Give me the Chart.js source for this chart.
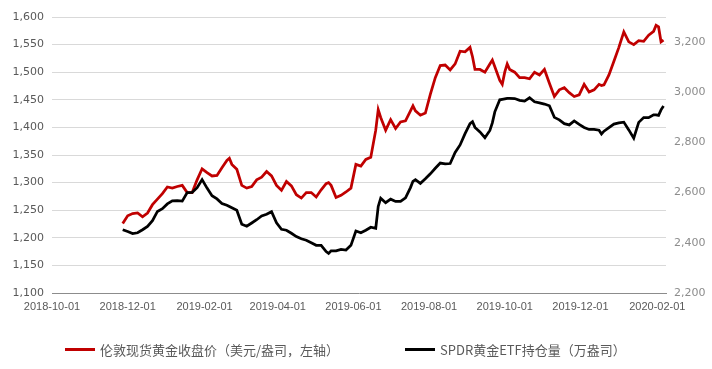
<!DOCTYPE html>
<html>
<head>
<meta charset="utf-8">
<script src="https://cdn.jsdelivr.net/npm/chart.js@4.4.1/dist/chart.umd.min.js"></script>
<style>
  body { margin: 0; background: #fff; }
  #wrap { position: relative; width: 712px; height: 369px; }
  .leg { position: absolute; top: 340px; height: 18px; display: flex; align-items: center;
         font-family: "Noto Sans CJK SC", "Noto Sans", sans-serif; font-size: 13px; color: #595959; white-space: nowrap; }
  .leg i { display: inline-block; width: 30px; height: 3px; margin-right: 5px; }
</style>
</head>
<body>
<div id="wrap">
  <canvas id="myGraph" width="712" height="369"></canvas>
  <div class="leg" style="left:65px"><i style="background:#c00000"></i><span id="leg0"></span></div>
  <div class="leg" style="left:405px"><i style="background:#000"></i><span id="leg1"></span></div>
</div>
<script>
/* DATOS */
const seriesNames = ["伦敦现货黄金收盘价（美元/盎司，左轴）", "SPDR黄金ETF持仓量（万盎司）"];
const dates = [
  "2018-11-27","2018-12-01","2018-12-05","2018-12-09","2018-12-13","2018-12-17","2018-12-21","2018-12-25","2018-12-29",
  "2019-01-02","2019-01-06","2019-01-10","2019-01-14","2019-01-18","2019-01-22","2019-01-26","2019-01-30",
  "2019-02-03","2019-02-07","2019-02-11","2019-02-15","2019-02-19","2019-02-21","2019-02-23","2019-02-27",
  "2019-03-03","2019-03-07","2019-03-11","2019-03-15","2019-03-19","2019-03-23","2019-03-27","2019-03-31",
  "2019-04-04","2019-04-08","2019-04-12","2019-04-16","2019-04-20","2019-04-24","2019-04-28",
  "2019-05-02","2019-05-06","2019-05-10","2019-05-12","2019-05-14","2019-05-18","2019-05-22","2019-05-26","2019-05-30",
  "2019-06-03","2019-06-07","2019-06-11","2019-06-15","2019-06-19","2019-06-21","2019-06-23","2019-06-27",
  "2019-07-01","2019-07-05","2019-07-09","2019-07-13","2019-07-17","2019-07-19","2019-07-21","2019-07-25","2019-07-29",
  "2019-08-02","2019-08-06","2019-08-10","2019-08-14","2019-08-18","2019-08-22","2019-08-26","2019-08-30",
  "2019-09-03","2019-09-05","2019-09-07","2019-09-11","2019-09-15","2019-09-19","2019-09-21","2019-09-23","2019-09-27","2019-09-29",
  "2019-10-01","2019-10-03","2019-10-05","2019-10-09","2019-10-13","2019-10-17","2019-10-21","2019-10-25","2019-10-29",
  "2019-11-02","2019-11-06","2019-11-10","2019-11-14","2019-11-18","2019-11-22","2019-11-26","2019-11-30",
  "2019-12-04","2019-12-08","2019-12-12","2019-12-16","2019-12-18","2019-12-20","2019-12-24","2019-12-28",
  "2020-01-01","2020-01-05","2020-01-09","2020-01-13","2020-01-17","2020-01-21","2020-01-25","2020-01-29","2020-01-31",
  "2020-02-02","2020-02-04","2020-02-06"
];
const goldPrice = [
  1226,1240,1244,1245,1238,1245,1260,1270,1280,
  1292,1290,1293,1295,1282,1282,1305,1325,
  1318,1312,1313,1327,1340,1344,1333,1324,
  1295,1290,1293,1305,1310,1320,1312,1295,
  1286,1302,1294,1278,1272,1282,1282,
  1274,1287,1298,1300,1295,1273,1277,1283,1290,
  1333,1330,1342,1346,1395,1432,1418,1395,
  1414,1398,1410,1412,1430,1439,1430,1422,1426,
  1460,1490,1512,1513,1504,1515,1538,1537,
  1545,1528,1505,1505,1500,1515,1522,1510,1485,1478,
  1500,1515,1505,1500,1490,1490,1488,1500,1495,
  1505,1480,1456,1468,1472,1463,1456,1459,
  1478,1464,1468,1478,1476,1477,1495,1520,
  1545,1573,1555,1550,1557,1556,1567,1574,1585,
  1582,1555,1558
];
const etfHolding = [
  2452,2445,2437,2440,2452,2465,2488,2525,2536,
  2555,2567,2568,2566,2600,2601,2620,2652,
  2618,2588,2575,2557,2550,2545,2540,2530,
  2474,2466,2479,2492,2507,2514,2524,2480,
  2454,2450,2438,2425,2416,2410,2400,
  2390,2390,2365,2358,2368,2368,2374,2371,2390,
  2447,2440,2450,2462,2458,2545,2578,2560,
  2574,2565,2565,2579,2620,2645,2652,2637,2655,
  2675,2697,2718,2715,2716,2760,2790,2835,
  2875,2883,2860,2842,2819,2848,2878,2922,2970,2972,
  2974,2976,2976,2975,2968,2965,2978,2962,2958,
  2953,2946,2900,2890,2875,2870,2886,2872,
  2860,2852,2852,2849,2834,2845,2859,2873,
  2878,2881,2850,2817,2880,2899,2899,2910,2910,
  2908,2930,2945
];
const xTickLabels = ["2018-10-01","2018-12-01","2019-02-01","2019-04-01","2019-06-01","2019-08-01","2019-10-01","2019-12-01","2020-02-01"];
const leftTicks = [1100,1150,1200,1250,1300,1350,1400,1450,1500,1550,1600];
const rightTicks = [2200,2400,2600,2800,3000,3200];

/* FUNCIONES */
const toDay = (s) => Date.UTC(+s.slice(0, 4), +s.slice(5, 7) - 1, +s.slice(8, 10)) / 864e5;
const fmtDay = (v) => new Date(v * 864e5).toISOString().slice(0, 10);
const fmtNum = (v) => v.toLocaleString("en-US");

document.getElementById("leg0").textContent = seriesNames[0];
document.getElementById("leg1").textContent = seriesNames[1];

const tickFont = { family: "DejaVu Sans", size: 11 };

const config = {
  type: "line",
  data: {
    datasets: [
      {
        label: seriesNames[0],
        data: dates.map((d, i) => ({ x: toDay(d), y: goldPrice[i] })),
        borderColor: "#c00000",
        borderWidth: 2.75,
        pointRadius: 0,
        yAxisID: "y",
        order: 1,
      },
      {
        label: seriesNames[1],
        data: dates.map((d, i) => ({ x: toDay(d), y: etfHolding[i] })),
        borderColor: "#000000",
        borderWidth: 2.75,
        pointRadius: 0,
        yAxisID: "y1",
        order: 0,
      },
    ],
  },
  options: {
    responsive: false,
    animation: false,
    layout: { padding: { top: 17, left: 0, right: 0, bottom: 0 } },
    plugins: { legend: { display: false }, tooltip: { enabled: false } },
    scales: {
      x: {
        type: "linear",
        min: toDay("2018-10-01"),
        max: toDay("2020-02-08"),
        afterBuildTicks: (scale) => { scale.ticks = xTickLabels.map((d) => ({ value: toDay(d) })); },
        afterFit: (scale) => { scale.height = 76; },
        grid: { display: false, drawTicks: false },
        border: { display: true, color: "#8c8c8c", width: 1 },
        ticks: {
          callback: (v) => fmtDay(v),
          autoSkip: false, maxRotation: 0, padding: 7,
          color: "#595959", font: { family: "Liberation Sans", size: 11 },
        },
      },
      y: {
        position: "left",
        min: 1100, max: 1600,
        afterBuildTicks: (scale) => { scale.ticks = leftTicks.map((v) => ({ value: v })); },
        afterFit: (scale) => { scale.width = 52; },
        grid: {
          drawTicks: false,
          color: (ctx) => (ctx.tick && ctx.tick.value === 1100 ? "rgba(0,0,0,0)" : "#d9d9d9"),
        },
        border: { display: false },
        ticks: { callback: (v) => fmtNum(v), padding: 8, color: "#595959", font: tickFont },
      },
      y1: {
        position: "right",
        min: 2200, max: 3300,
        afterBuildTicks: (scale) => { scale.ticks = rightTicks.map((v) => ({ value: v })); },
        afterFit: (scale) => { scale.width = 46; },
        grid: { display: false, drawTicks: false },
        border: { display: false },
        ticks: { callback: (v) => fmtNum(v), padding: 8, color: "#8c8c8c", font: tickFont },
      },
    },
  },
};

let chart = new Chart(document.getElementById("myGraph"), config);
</script>
</body>
</html>
